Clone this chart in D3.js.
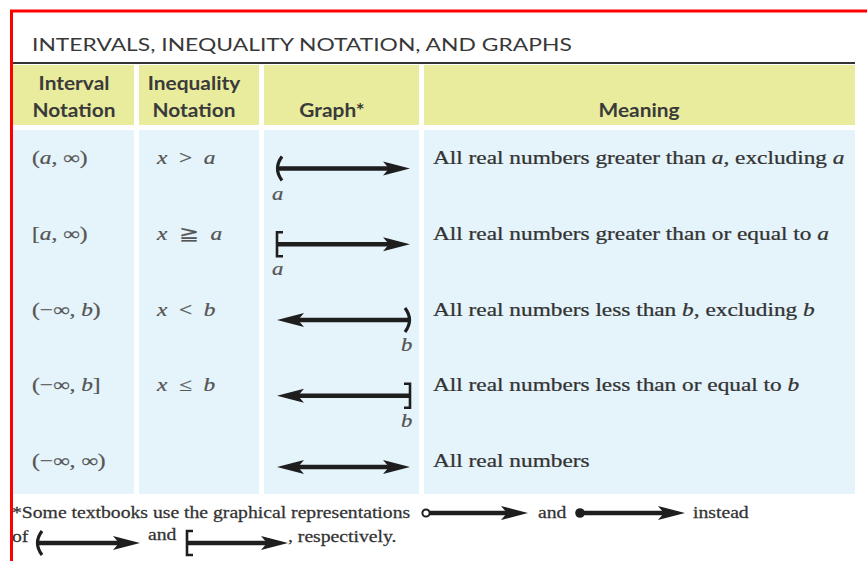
<!DOCTYPE html>
<html>
<head>
<meta charset="utf-8">
<script src="https://cdn.jsdelivr.net/npm/d3@7"></script>
<style>
  body { margin: 0; background: #fff; }
</style>
</head>
<body>
<div id="table"></div>
<script>
// table contents, italic parts between underscores
const title = "INTERVALS, INEQUALITY NOTATION, AND GRAPHS";
const headers = [["Interval", "Notation"], ["Inequality", "Notation"], ["Graph*"], ["Meaning"]];
const intervals = ["(_a_, ∞)", "[_a_, ∞)", "(−∞, _b_)", "(−∞, _b_]", "(−∞, ∞)"];
const inequalities = ["_x_ > _a_", "_x_ ≧ _a_", "_x_ < _b_", "_x_ ≤ _b_", ""];
const leftEnds = ["paren", "bracket", "arrow", "arrow", "arrow"];
const rightEnds = ["arrow", "arrow", "paren", "bracket", "arrow"];
const endLabels = ["a", "a", "b", "b", ""];
const meanings = [
  "All real numbers greater than _a_, excluding _a_",
  "All real numbers greater than or equal to _a_",
  "All real numbers less than _b_, excluding _b_",
  "All real numbers less than or equal to _b_",
  "All real numbers"
];
const footnote1 = ["*Some textbooks use the graphical representations", "and", "instead"];
const footnote2 = ["of", "and", ", respectively."];

// layout
const W = 867, H = 561;
const colEdges = [[13, 134], [139, 259], [264, 419], [424, 855]];
const serif = "'Liberation Serif', 'Times New Roman', serif";
const sans = "Lato, 'Open Sans', sans-serif";
// the source picture is stretched sideways
const serifStretch = 1.26, titleStretch = 1.27, headStretch = 1.16;

const svg = d3.select("#table")
  .append("svg")
  .attr("width", W)
  .attr("height", H);

// rows
const y = d3.scalePoint().domain(d3.range(meanings.length)).range([164, 467]);
// graph column: 0 = left end, 1 = right end
const gx = d3.scaleLinear().domain([0, 1]).range([277, 410]);

// writes a string with _italic_ parts as tspans
function rich(sel, str) {
  str.split("_").forEach((part, i) => {
    if (part === "") return;
    sel.append("tspan")
      .style("font-style", i % 2 ? "italic" : "normal")
      .text(part);
  });
}

function addText(x, yy, str, opt) {
  const color = opt.color || "#333";
  const t = svg.append("text")
    .attr("transform", `translate(${x},${yy}) scale(${opt.stretch || serifStretch},1)`)
    .attr("text-anchor", opt.anchor || "start")
    .style("font-family", opt.family || serif)
    .style("font-size", (opt.size || 18.5) + "px")
    .style("font-weight", opt.weight || "normal")
    .style("white-space", "pre")
    .style("fill", color)
    .style("stroke", color)
    .style("stroke-width", opt.family ? 0 : 0.25);
  rich(t, str);
  return t;
}

// header band
svg.selectAll("rect.head")
  .data(colEdges)
  .join("rect")
  .attr("class", "head")
  .attr("x", (d) => d[0])
  .attr("y", 65)
  .attr("width", (d) => d[1] - d[0])
  .attr("height", 60)
  .attr("fill", "#e8ec9c");

// body band
svg.selectAll("rect.body")
  .data(colEdges)
  .join("rect")
  .attr("class", "body")
  .attr("x", (d) => d[0])
  .attr("y", 130)
  .attr("width", (d) => d[1] - d[0])
  .attr("height", 364)
  .attr("fill", "#e5f4fb");

// title and rule
addText(32, 51, title, { family: sans, size: 18, stretch: titleStretch, color: "#383838" });
svg.append("line")
  .attr("x1", 13).attr("x2", 855)
  .attr("y1", 63).attr("y2", 63)
  .attr("stroke", "#333")
  .attr("stroke-width", 2);

// header labels
const headCenters = [74, 194, 332, 639];
headers.forEach((lines, c) => {
  lines.forEach((l, k) => {
    const yy = 117 - (lines.length - 1 - k) * 27;
    addText(headCenters[c], yy, l, { family: sans, size: 18, weight: "bold", anchor: "middle", stretch: headStretch, color: "#3a3a3a" });
  });
});

// text columns
intervals.forEach((s, i) => addText(32, y(i), s, { color: "#555" }));
inequalities.forEach((s, i) => addText(157, y(i), s.replace(/ /g, "  "), { color: "#555" }));
meanings.forEach((s, i) => addText(433, y(i), s, { color: "#333" }));

// number line pieces
const ink = "#1e1e1e";
function arrowHead(g, tip, yy, dir) {
  // dir: +1 points right, -1 points left
  const L = 27, h = 7, n = 21;
  g.append("path")
    .attr("d", `M${tip},${yy} L${tip - dir * L},${yy - h} L${tip - dir * n},${yy} L${tip - dir * L},${yy + h} Z`)
    .attr("fill", ink);
}
function paren(g, x, yy, dir) {
  // dir: -1 opening "(" on left, +1 closing ")" on right
  g.append("path")
    .attr("d", `M${x - dir * 5},${yy - 12} Q${x + dir * 4},${yy} ${x - dir * 5},${yy + 12}`)
    .attr("fill", "none")
    .attr("stroke", ink)
    .attr("stroke-width", 3.2);
}
function bracket(g, x, yy, dir) {
  g.append("path")
    .attr("d", `M${x - dir * 6},${yy - 12} H${x} V${yy + 12} H${x - dir * 6}`)
    .attr("fill", "none")
    .attr("stroke", ink)
    .attr("stroke-width", 2.6);
}
function numberLine(g, x0, x1, yy, left, right) {
  const a = left === "arrow" ? x0 + 18 : x0;
  const b = right === "arrow" ? x1 - 18 : x1;
  g.append("line")
    .attr("x1", a).attr("x2", b)
    .attr("y1", yy).attr("y2", yy)
    .attr("stroke", ink)
    .attr("stroke-width", 4.3);
  if (left === "arrow") arrowHead(g, x0, yy, -1);
  if (left === "paren") paren(g, x0, yy, -1);
  if (left === "bracket") bracket(g, x0, yy, -1);
  if (left === "open") g.append("circle").attr("cx", x0).attr("cy", yy).attr("r", 3.6).attr("fill", "#fff").attr("stroke", ink).attr("stroke-width", 2);
  if (left === "dot") g.append("circle").attr("cx", x0).attr("cy", yy).attr("r", 4.8).attr("fill", ink);
  if (right === "arrow") arrowHead(g, x1, yy, 1);
  if (right === "paren") paren(g, x1, yy, 1);
  if (right === "bracket") bracket(g, x1, yy, 1);
}

const graphs = svg.append("g");
meanings.forEach((m, i) => {
  const yy = y(i) + (endLabels[i] ? 4.5 : 0);
  numberLine(graphs, gx(0), gx(1), yy, leftEnds[i], rightEnds[i]);
  if (endLabels[i]) {
    const lx = leftEnds[i] === "arrow" ? gx(1) - 9 : gx(0) - 5;
    addText(lx, yy + 31, "_" + endLabels[i] + "_", { color: "#555", size: 18 });
  }
});

// footnote
const fs = { size: 16, color: "#333", stretch: 1.23 };
addText(12, 518, footnote1[0], fs);
numberLine(svg, 426, 528, 513, "open", "arrow");
addText(538, 518, footnote1[1], fs);
numberLine(svg, 580, 685, 513, "dot", "arrow");
addText(693, 518, footnote1[2], fs);

addText(12, 542, footnote2[0], fs);
numberLine(svg, 37, 140, 543, "paren", "arrow");
addText(148, 540, footnote2[1], fs);
numberLine(svg, 187, 288, 543, "bracket", "arrow");
addText(288, 542, footnote2[2], fs);

// red frame
svg.append("line")
  .attr("x1", 10).attr("x2", W)
  .attr("y1", 11).attr("y2", 11)
  .attr("stroke", "#f00")
  .attr("stroke-width", 3);
svg.append("line")
  .attr("x1", 11.5).attr("x2", 11.5)
  .attr("y1", 10).attr("y2", H)
  .attr("stroke", "#f00")
  .attr("stroke-width", 3);
</script>
</body>
</html>
